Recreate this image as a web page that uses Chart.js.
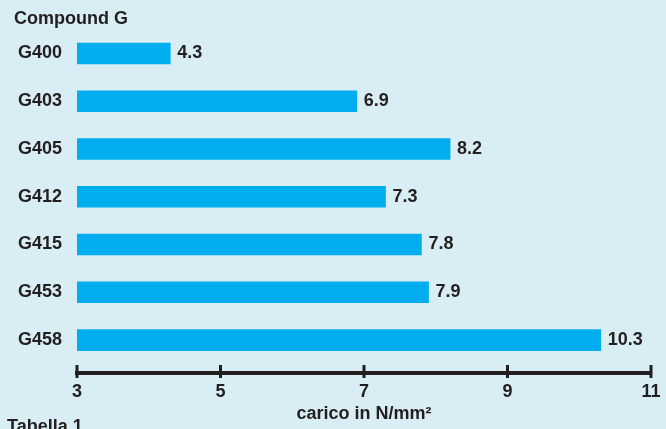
<!DOCTYPE html>
<html>
<head>
<meta charset="utf-8">
<script src="https://cdn.jsdelivr.net/npm/chart.js@4/dist/chart.umd.min.js"></script>
<style>
    html, body { margin: 0; padding: 0; background: #d9edf4; }
    canvas { display: block; }
</style>
</head>
<body>
<canvas id="chart" width="666" height="429"></canvas>
<script>
// Chart data
const categories = ['G400', 'G403', 'G405', 'G412', 'G415', 'G453', 'G458'];
const loads = [4.3, 6.9, 8.2, 7.3, 7.8, 7.9, 10.3];
const xTicks = [3, 5, 7, 9, 11];

const TEXT = '#231f20';
const BAR = '#00aeef';
const FONT = "'Liberation Sans', Arial, sans-serif";

Chart.defaults.font.family = FONT;
Chart.defaults.color = TEXT;

// value labels after the bars
const valueLabels = {
    id: 'valueLabels',
    afterDatasetsDraw(chart) {
        const ctx = chart.ctx;
        const meta = chart.getDatasetMeta(0);
        ctx.save();
        ctx.font = `bold 18px ${FONT}`;
        ctx.fillStyle = TEXT;
        ctx.textAlign = 'left';
        ctx.textBaseline = 'middle';
        meta.data.forEach((bar, i) => {
            ctx.fillText(loads[i].toFixed(1), bar.x + 7, bar.y);
        });
        ctx.restore();
    }
};

// tick marks crossing the axis line + footer note
const axisExtras = {
    id: 'axisExtras',
    afterDraw(chart) {
        const ctx = chart.ctx;
        const x = chart.scales.x;
        ctx.save();
        ctx.strokeStyle = TEXT;
        ctx.lineWidth = 3;
        x.ticks.forEach(t => {
            const px = x.getPixelForValue(t.value);
            ctx.beginPath();
            ctx.moveTo(px, x.top - 8);
            ctx.lineTo(px, x.top + 5);
            ctx.stroke();
        });
        ctx.font = `bold 18px ${FONT}`;
        ctx.fillStyle = TEXT;
        ctx.textAlign = 'left';
        ctx.textBaseline = 'alphabetic';
        ctx.fillText('Tabella 1', 7, 432);
        ctx.restore();
    }
};

new Chart(document.getElementById('chart'), {
    type: 'bar',
    data: {
        datasets: [{
            data: categories.map((c, i) => ({ x: loads[i], y: i })),
            backgroundColor: BAR,
            barThickness: 21
        }]
    },
    options: {
        indexAxis: 'y',
        responsive: false,
        animation: false,
        layout: { padding: { left: 14, right: 15, top: 0, bottom: 0 } },
        plugins: {
            legend: { display: false },
            tooltip: { enabled: false },
            title: {
                display: true,
                text: 'Compound G',
                align: 'start',
                color: TEXT,
                font: { size: 18, weight: 'bold' },
                padding: { top: 8, bottom: 0 }
            }
        },
        scales: {
            x: {
                type: 'linear',
                min: 3,
                max: 11,
                grid: { display: false, drawTicks: false },
                border: { display: true, color: TEXT, width: 4 },
                ticks: {
                    stepSize: 2,
                    padding: 8,
                    color: TEXT,
                    font: { size: 18, weight: 'bold' }
                },
                afterBuildTicks: s => { s.ticks = xTicks.map(v => ({ value: v })); },
                title: {
                    display: true,
                    text: 'carico in N/mm²',
                    color: TEXT,
                    font: { size: 18, weight: 'bold' },
                    padding: { top: 0, bottom: 4 }
                },
                afterFit: s => {
                    s.height = 56;
                    s.paddingLeft = 0;
                    s.paddingRight = 0;
                }
            },
            y: {
                type: 'linear',
                reverse: true,
                offset: false,
                min: -0.5,
                max: 6.69,
                grid: { display: false, drawTicks: false, offset: false },
                border: { display: false },
                afterBuildTicks: s => { s.ticks = categories.map((c, i) => ({ value: i })); },
                ticks: {
                    padding: 15,
                    color: TEXT,
                    font: { size: 18, weight: 'bold' },
                    callback: v => categories[v]
                },
                afterFit: s => { s.width = 63; }
            }
        }
    },
    plugins: [valueLabels, axisExtras]
});
</script>
</body>
</html>
